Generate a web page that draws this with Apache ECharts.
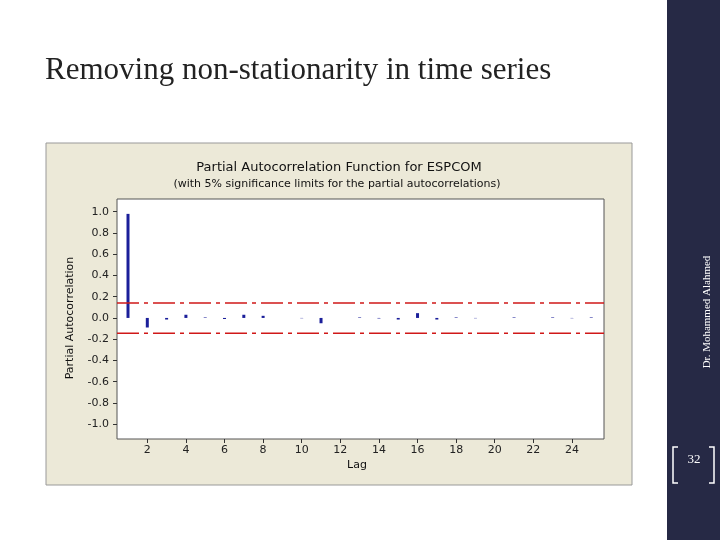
<!DOCTYPE html>
<html><head><meta charset="utf-8">
<script src="https://cdn.jsdelivr.net/npm/echarts@6/dist/echarts.min.js"></script>
<style>html,body{margin:0;padding:0;background:#fff}#c{width:720px;height:540px}</style>
</head><body><div id="c"></div>
<script>
const lags = [1,2,3,4,5,6,7,8,9,10,11,12,13,14,15,16,17,18,19,20,21,22,23,24,25];
const pacf = [0.98,-0.09,-0.015,0.03,0.005,-0.01,0.03,0.02,0,-0.003,-0.05,0,0.005,-0.005,-0.015,0.045,-0.015,0.005,-0.003,0,0.005,0,0.005,-0.003,0.005];
const limitUp = 0.14, limitLow = -0.145;
const xTicks = [2,4,6,8,10,12,14,16,18,20,22,24];
const yTicks = [-1,-0.8,-0.6,-0.4,-0.2,0,0.2,0.4,0.6,0.8,1];
const xMin = 0.43, xMax = 25.66;

const limitLine = v => ({
  type: 'line', symbol: 'none', silent: true,
  data: [[xMin, v], [xMax, v]],
  lineStyle: { color: '#d01818', type: [22, 5, 4, 5], width: 1.5 },
  itemStyle: { color: '#d01818' }
});

const chart = echarts.init(document.getElementById('c'));
chart.setOption({
  backgroundColor: '#fff',
  animation: false,
  graphic: [
    { type: 'rect', shape: { x: 667, y: 0, width: 53, height: 540 }, style: { fill: '#262945' } },
    { type: 'text', x: 45, y: 55, style: { text: 'Removing non-stationarity in time series', font: '31px "Liberation Serif"', fill: '#222' } },
    { type: 'text', x: 707, y: 312, rotation: Math.PI / 2, style: { text: 'Dr. Mohammed Alahmed', font: '11px "Liberation Serif"', fill: '#fff', align: 'center', verticalAlign: 'middle' } },
    { type: 'rect', shape: { x: 46, y: 143, width: 586, height: 342 }, style: { fill: '#ece9d8', stroke: '#999', lineWidth: 1 }, z: -10 },
    { type: 'text', x: 339, y: 168, style: { text: 'Partial Autocorrelation Function for ESPCOM', font: '13px "DejaVu Sans"', fill: '#111', align: 'center', verticalAlign: 'middle' } },
    { type: 'text', x: 337, y: 184, style: { text: '(with 5% significance limits for the partial autocorrelations)', font: '11px "DejaVu Sans"', fill: '#111', align: 'center', verticalAlign: 'middle' } },
    { type: 'text', x: 70, y: 318, rotation: Math.PI / 2, style: { text: 'Partial Autocorrelation', font: '11px "DejaVu Sans"', fill: '#111', align: 'center', verticalAlign: 'middle' } },
    { type: 'text', x: 357, y: 465, style: { text: 'Lag', font: '11px "DejaVu Sans"', fill: '#111', align: 'center', verticalAlign: 'middle' } },
    { type: 'polyline', shape: { points: [[678, 447], [673, 447], [673, 483], [678, 483]] }, style: { stroke: '#fff', lineWidth: 1.5, fill: 'none' } },
    { type: 'polyline', shape: { points: [[709, 447], [714, 447], [714, 483], [709, 483]] }, style: { stroke: '#fff', lineWidth: 1.5, fill: 'none' } },
    { type: 'text', x: 694, y: 460, style: { text: '32', font: '13px "Liberation Serif"', fill: '#fff', align: 'center', verticalAlign: 'middle' } }
  ],
  grid: { left: 117, right: 116, top: 199, bottom: 101, show: true, backgroundColor: '#fff', borderColor: '#555', borderWidth: 1 },
  xAxis: {
    type: 'value', min: xMin, max: xMax,
    splitLine: { show: false },
    axisLine: { show: false, onZero: false },
    axisTick: { show: true, customValues: xTicks, length: 4, lineStyle: { color: '#333' } },
    axisLabel: { customValues: xTicks, color: '#222', fontSize: 11, fontFamily: 'DejaVu Sans', margin: 6 }
  },
  yAxis: {
    type: 'value', min: -1.14, max: 1.12,
    splitLine: { show: false },
    axisLine: { show: false, onZero: false },
    axisTick: { show: true, customValues: yTicks, length: 4, lineStyle: { color: '#333' } },
    axisLabel: { customValues: yTicks, color: '#222', fontSize: 11, fontFamily: 'DejaVu Sans', margin: 8, formatter: v => v.toFixed(1) }
  },
  series: [
    limitLine(limitUp),
    limitLine(limitLow),
    {
      type: 'bar',
      barWidth: 3,
      data: lags.map((l, i) => [l, pacf[i]]),
      itemStyle: { color: '#1b1f9a' }
    }
  ]
});
</script></body></html>
